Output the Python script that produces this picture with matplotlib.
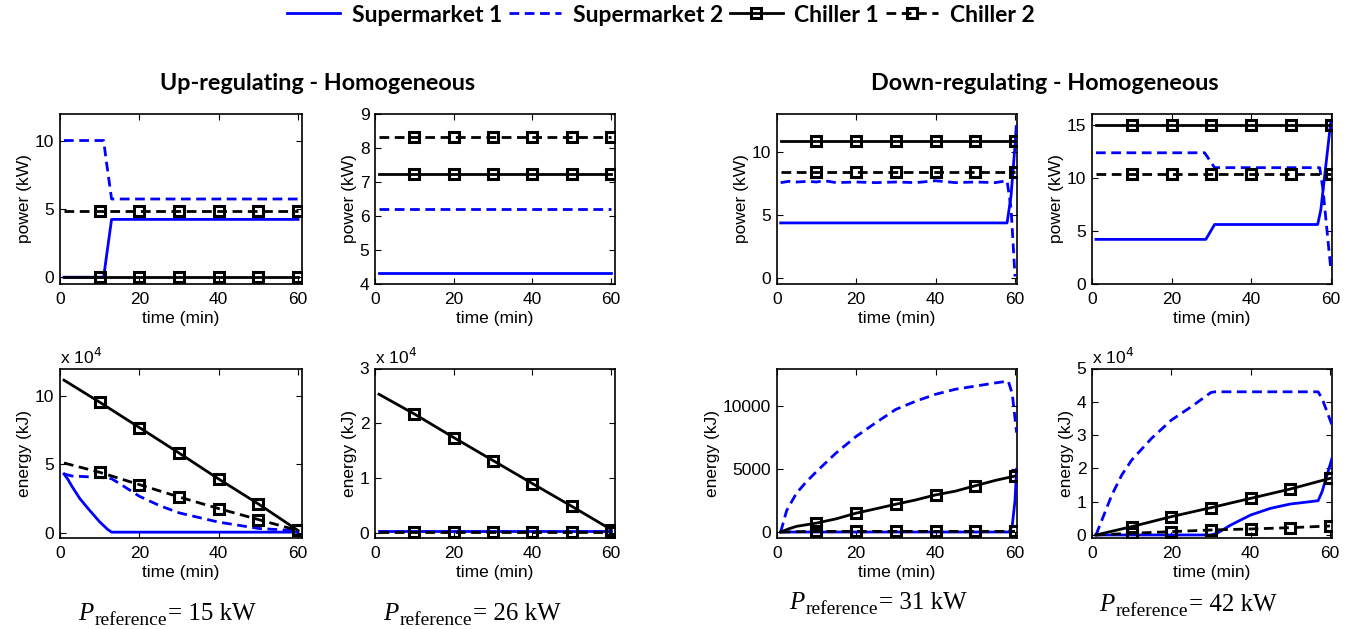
import matplotlib
matplotlib.use("Agg")
import matplotlib.pyplot as plt
from matplotlib.lines import Line2D

# ---------------- data ----------------
# marker/time grid for chiller series
t_ch = [1, 10, 20, 30, 40, 50, 60]

# Up-regulating, P_ref = 15 kW : power (kW)
p15_sm1_t = [1, 11, 11.7, 13, 60]
p15_sm1 = [0, 0, 1.5, 4.25, 4.25]
p15_sm2_t = [1, 11, 11.6, 13, 60]
p15_sm2 = [10.05, 10.05, 8.7, 5.75, 5.75]
p15_ch1 = [0, 0, 0, 0, 0, 0, 0]
p15_ch2 = [4.85, 4.85, 4.85, 4.85, 4.85, 4.85, 4.85]

# Up-regulating, P_ref = 26 kW : power (kW)
p26_sm1_t = [1, 60]
p26_sm1 = [4.32, 4.32]
p26_sm2_t = [1, 60]
p26_sm2 = [6.22, 6.22]
p26_ch1 = [7.23, 7.23, 7.23, 7.23, 7.23, 7.23, 7.23]
p26_ch2 = [8.33, 8.33, 8.33, 8.33, 8.33, 8.33, 8.33]

# Down-regulating, P_ref = 31 kW : power (kW)
p31_sm1_t = [1, 58, 59, 60, 60.3]
p31_sm1 = [4.35, 4.35, 6.5, 10.5, 12.0]
p31_sm2_t = [1, 3, 5, 8, 10, 12, 15, 20, 25, 30, 35, 40, 45, 50, 55, 58, 59, 60]
p31_sm2 = [7.55, 7.65, 7.6, 7.65, 7.6, 7.7, 7.55, 7.6, 7.55, 7.6, 7.55, 7.7, 7.55, 7.6, 7.55, 7.7, 5.5, 0.1]
p31_ch1 = [10.84, 10.84, 10.84, 10.84, 10.84, 10.84, 10.84]
p31_ch2 = [8.42, 8.42, 8.42, 8.42, 8.42, 8.42, 8.42]

# Down-regulating, P_ref = 42 kW : power (kW)
p42_sm1_t = [1, 28.6, 30.8, 56.7, 57.5, 60]
p42_sm1 = [4.2, 4.2, 5.6, 5.6, 7.0, 15.3]
p42_sm2_t = [1, 28.3, 30.8, 57.2, 58, 60]
p42_sm2 = [12.35, 12.35, 10.95, 10.95, 9.0, 1.4]
p42_ch1 = [15.0, 15.0, 15.0, 15.0, 15.0, 15.0, 15.0]
p42_ch2 = [10.35, 10.35, 10.35, 10.35, 10.35, 10.35, 10.35]

# Up-regulating, P_ref = 15 kW : energy (x 10^4 kJ)
e15_sm1_t = [1, 2, 3, 5, 7, 10, 12, 13, 60]
e15_sm1 = [4.3, 3.9, 3.4, 2.5, 1.8, 0.8, 0.25, 0.05, 0.05]
e15_sm2_t = [1, 3, 10, 13, 15, 20, 25, 30, 40, 50, 60]
e15_sm2 = [4.3, 4.15, 4.05, 3.95, 3.6, 2.67, 2.0, 1.46, 0.78, 0.32, 0.15]
e15_ch1 = [11.15, 9.54, 7.69, 5.83, 3.93, 2.11, 0.17]
e15_ch2 = [5.1, 4.42, 3.52, 2.62, 1.77, 0.97, 0.17]

# Up-regulating, P_ref = 26 kW : energy (x 10^4 kJ)
e26_sm1_t = [1, 60]
e26_sm1 = [0.03, 0.03]
e26_sm2_t = [1, 60]
e26_sm2 = [0.035, 0.035]
e26_ch1 = [2.53, 2.17, 1.74, 1.32, 0.90, 0.485, 0.06]
e26_ch2 = [0.02, 0.02, 0.02, 0.02, 0.02, 0.02, 0.02]

# Down-regulating, P_ref = 31 kW : energy (kJ)
e31_sm1_t = [1, 58.5, 59.3, 60, 60.4]
e31_sm1 = [0, 0, 500, 2500, 5000]
e31_sm2_t = [1, 2.5, 5, 7.5, 10, 15, 20, 25, 30, 35, 40, 45, 50, 55, 58.3, 59.3, 60.4]
e31_sm2 = [0, 1700, 3100, 4000, 4800, 6300, 7600, 8700, 9750, 10400, 10950, 11350, 11600, 11850, 12000, 11000, 7900]
e31_ch1_t = [1, 3, 5, 10, 15, 20, 25, 30, 35, 40, 45, 50, 55, 60]
e31_ch1 = [0, 250, 450, 710, 1050, 1500, 1850, 2210, 2550, 2950, 3250, 3680, 4100, 4450]
e31_ch1_mk_t = [10, 20, 30, 40, 50, 60]
e31_ch1_mk = [710, 1500, 2210, 2950, 3680, 4450]
e31_ch2 = [0, 50, 50, 50, 50, 50, 50]

# Down-regulating, P_ref = 42 kW : energy (x 10^4 kJ)
e42_sm1_t = [1, 30, 31.5, 35, 40, 45, 50, 55, 57, 58, 60.5]
e42_sm1 = [0, 0, 0.05, 0.3, 0.6, 0.8, 0.93, 1.0, 1.03, 1.3, 2.3]
e42_sm2_t = [1, 3, 5, 7.5, 10, 15, 20, 25, 30, 31, 57, 58, 60.5]
e42_sm2 = [0, 0.6, 1.2, 1.8, 2.25, 2.9, 3.45, 3.85, 4.28, 4.3, 4.3, 4.1, 3.3]
e42_ch1 = [0, 0.25, 0.55, 0.82, 1.1, 1.38, 1.7]
e42_ch2 = [0, 0.05, 0.1, 0.15, 0.18, 0.22, 0.27]

series_labels = ["Supermarket 1", "Supermarket 2", "Chiller 1", "Chiller 2"]
titles = ["Up-regulating - Homogeneous", "Down-regulating - Homogeneous"]
p_refs = ["15", "26", "31", "42"]

# ---------------- style ----------------
BLUE = "#0000ff"
LW = 2.0
DASH = (0, (3.5, 2))
FS = 12.5
SANS = ["Liberation Sans", "DejaVu Sans"]
TITLEF = ["Lato", "DejaVu Sans"]
SERIF = ["Liberation Serif", "DejaVu Serif"]
plt.rcParams["font.family"] = SANS
plt.rcParams["font.size"] = FS

fig = plt.figure(figsize=(13.54, 6.29), dpi=100)

W, H = 1354.0, 629.0
cols = [(60, 302), (375, 615), (776.7, 1017), (1092, 1332)]
rows = [(114, 284), (368.5, 538.3)]


def make_ax(col, row):
    x0, x1 = cols[col]
    y0, y1 = rows[row]
    ax = fig.add_axes([x0 / W, 1 - y1 / H, (x1 - x0) / W, (y1 - y0) / H])
    ax.tick_params(direction="in", top=True, right=True, length=4, width=0.8,
                   labelsize=FS)
    ax.tick_params(axis="x", pad=5.5)
    ax.tick_params(axis="y", pad=4)
    for s in ax.spines.values():
        s.set_linewidth(1.2)
    ax.set_xticks([0, 20, 40, 60])
    ax.set_xlabel("time (min)", fontsize=FS, labelpad=3)
    return ax


def draw(ax, sm1_t, sm1, sm2_t, sm2, ch1_t, ch1, ch2_t, ch2, ch1_marks=None):
    ax.plot(sm1_t, sm1, color=BLUE, lw=LW, zorder=3)
    ax.plot(sm2_t, sm2, color=BLUE, lw=LW, ls=DASH, zorder=3)
    ax.plot(ch1_t, ch1, color="black", lw=LW, zorder=4)
    ax.plot(ch2_t, ch2, color="black", lw=LW, ls=DASH, zorder=4)
    mk_ch1 = ch1_marks if ch1_marks is not None else (ch1_t[1:], ch1[1:])
    ax.plot(mk_ch1[0], mk_ch1[1], ls="none", marker="s", ms=7.5, mfc="none",
            mec="black", mew=2.2, zorder=5)
    ax.plot(ch2_t[1:], ch2[1:], ls="none", marker="s", ms=7.5, mfc="none",
            mec="black", mew=2.2, zorder=5)


def sci(ax):
    ax.text(0.0, 1.01, r"x 10$^4$", transform=ax.transAxes, ha="left",
            va="bottom", fontsize=FS)


# --- top row: power
ax = make_ax(0, 0)
draw(ax, p15_sm1_t, p15_sm1, p15_sm2_t, p15_sm2, t_ch, p15_ch1, t_ch, p15_ch2)
ax.set_xlim(0, 61); ax.set_ylim(-0.5, 12); ax.set_yticks([0, 5, 10])
ax.set_ylabel("power (kW)", labelpad=2)

ax = make_ax(1, 0)
draw(ax, p26_sm1_t, p26_sm1, p26_sm2_t, p26_sm2, t_ch, p26_ch1, t_ch, p26_ch2)
ax.set_xlim(0, 61); ax.set_ylim(4, 9); ax.set_yticks([4, 5, 6, 7, 8, 9])
ax.set_ylabel("power (kW)", labelpad=2)

ax = make_ax(2, 0)
draw(ax, p31_sm1_t, p31_sm1, p31_sm2_t, p31_sm2, t_ch, p31_ch1, t_ch, p31_ch2)
ax.set_xlim(0, 60.5); ax.set_ylim(-0.5, 13); ax.set_yticks([0, 5, 10])
ax.set_ylabel("power (kW)", labelpad=2)

ax = make_ax(3, 0)
draw(ax, p42_sm1_t, p42_sm1, p42_sm2_t, p42_sm2, t_ch, p42_ch1, t_ch, p42_ch2)
ax.set_xlim(0, 60.3); ax.set_ylim(0, 16); ax.set_yticks([0, 5, 10, 15])
ax.set_ylabel("power (kW)", labelpad=2)

# --- bottom row: energy
ax = make_ax(0, 1)
draw(ax, e15_sm1_t, e15_sm1, e15_sm2_t, e15_sm2, t_ch, e15_ch1, t_ch, e15_ch2)
ax.set_xlim(0, 61); ax.set_ylim(-0.4, 12); ax.set_yticks([0, 5, 10])
ax.set_ylabel("energy (kJ)", labelpad=2); sci(ax)

ax = make_ax(1, 1)
draw(ax, e26_sm1_t, e26_sm1, e26_sm2_t, e26_sm2, t_ch, e26_ch1, t_ch, e26_ch2)
ax.set_xlim(0, 61); ax.set_ylim(-0.1, 3); ax.set_yticks([0, 1, 2, 3])
ax.set_ylabel("energy (kJ)", labelpad=2); sci(ax)

ax = make_ax(2, 1)
draw(ax, e31_sm1_t, e31_sm1, e31_sm2_t, e31_sm2, e31_ch1_t, e31_ch1, t_ch, e31_ch2,
     ch1_marks=(e31_ch1_mk_t, e31_ch1_mk))
ax.set_xlim(0, 60.5); ax.set_ylim(-500, 13000); ax.set_yticks([0, 5000, 10000])
ax.set_ylabel("energy (kJ)", labelpad=2)

ax = make_ax(3, 1)
draw(ax, e42_sm1_t, e42_sm1, e42_sm2_t, e42_sm2, t_ch, e42_ch1, t_ch, e42_ch2)
ax.set_xlim(0, 60.5); ax.set_ylim(-0.1, 5); ax.set_yticks([0, 1, 2, 3, 4, 5])
ax.set_ylabel("energy (kJ)", labelpad=2); sci(ax)

# --- titles
fig.text(318 / W, 1 - 83 / H, titles[0], ha="center", va="center",
         fontsize=16.8, fontweight="bold", family=TITLEF)
fig.text(1045 / W, 1 - 84 / H, titles[1], ha="center", va="center",
         fontsize=16.8, fontweight="bold", family=TITLEF)

# --- bottom annotations: P_reference = .. kW (built from pieces)
renderer = fig.canvas.get_renderer()
ref_pos = [(167, 614), (472, 614), (878, 603), (1188, 605)]
for (xc, yc), pr in zip(ref_pos, p_refs):
    parts = [
        ("P", dict(fontsize=18, style="italic"), 0.0, 0.0),
        ("reference", dict(fontsize=14), 1.0, -5.0),
        ("= " + pr + " kW", dict(fontsize=18), 1.0, 0.0),
    ]
    objs = []
    for txt, kw, gap, dy in parts:
        t = fig.text(0, 0, txt, ha="left", va="baseline", family=SERIF, **kw)
        objs.append((t, gap, dy))
    widths = [o[0].get_window_extent(renderer).width for o in objs]
    total = sum(widths) + sum(o[1] for o in objs)
    x = xc - total / 2.0
    base = (H - yc) - 6.0
    for (t, gap, dy), w in zip(objs, widths):
        x += gap
        t.set_position((x / W, (base + dy) / H))
        x += w

# --- legend
handles = [
    Line2D([], [], color=BLUE, lw=LW),
    Line2D([], [], color=BLUE, lw=LW, ls=DASH),
    Line2D([], [], color="black", lw=LW, marker="s", ms=7.5, mfc="none", mew=2.2),
    Line2D([], [], color="black", lw=LW, ls=DASH, marker="s", ms=7.5,
           mfc="none", mew=2.2),
]
fig.legend(handles, series_labels, loc="center", bbox_to_anchor=(661 / W, 1 - 15 / H),
           ncol=4, frameon=False, handlelength=2.3, handletextpad=0.5,
           columnspacing=0.3, numpoints=1, borderpad=0.2,
           prop={"family": TITLEF, "weight": "bold", "size": 16.5})

fig.savefig("out.png", dpi=100)
